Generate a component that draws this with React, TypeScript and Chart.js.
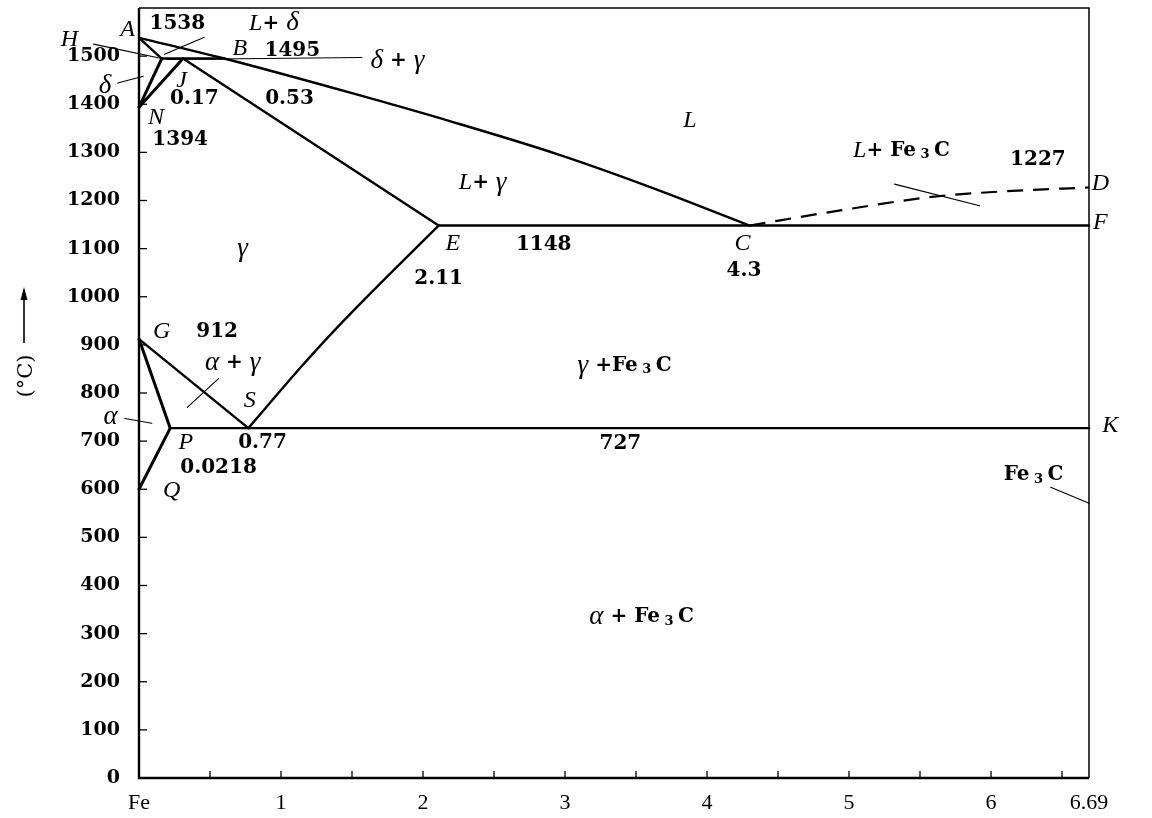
import { useEffect, useRef } from "react";
import { Chart, registerables } from "chart.js";

Chart.register(...registerables);

// x = carbon content (wt% C), y = temperature (°C)
const xTickValues = [0, 0.5, 1, 1.5, 2, 2.5, 3, 3.5, 4, 4.5, 5, 5.5, 6, 6.5, 6.69];
const yTickValues = [0, 100, 200, 300, 400, 500, 600, 700, 800, 900, 1000, 1100, 1200, 1300, 1400, 1500];

// liquidus A-B-C
const liquidusC = [0, 0.6, 1.5, 2.2, 2.95, 3.6, 4.3];
const liquidusT = [1538, 1495, 1423, 1364, 1296, 1228, 1148];
// A-H
const ahC = [0, 0.16];
const ahT = [1538, 1495];
// H-J-B peritectic
const hjbC = [0.16, 0.6];
const hjbT = [1495, 1495];
// H-N, J-N
const hnC = [0.16, 0];
const hnT = [1495, 1394];
const jnC = [0.31, 0];
const jnT = [1495, 1394];
// J-E solidus
const jeC = [0.31, 2.11];
const jeT = [1495, 1148];
// E-C-F eutectic
const ecfC = [2.11, 6.69];
const ecfT = [1148, 1148];
// C-D (dashed)
const cdC = [4.3, 4.95, 5.6, 6.15, 6.69];
const cdT = [1148, 1180, 1208, 1220, 1227];
// E-S
const esC = [0.77, 0.95, 1.15, 1.37, 1.6, 1.85, 2.11];
const esT = [727, 789, 857, 928, 998, 1072, 1148];
// G-S, G-P, P-Q
const gsC = [0, 0.77];
const gsT = [912, 727];
const gpC = [0, 0.22];
const gpT = [912, 727];
const pqC = [0.22, 0];
const pqT = [727, 600];
// P-S-K eutectoid
const pskC = [0.22, 6.69];
const pskT = [727, 727];

// thin leader lines of the annotations
const leadLdC = [0.18, 0.46];
const leadLdT = [1504, 1539];
const leadHC = [-0.32, 0.16];
const leadHT = [1525, 1495];
const leadDeltaC = [-0.15, 0.03];
const leadDeltaT = [1444, 1458];
const leadDgC = [0.2, 1.57];
const leadDgT = [1493, 1497];
const leadAgC = [0.34, 0.56];
const leadAgT = [770, 830];
const leadAlphaC = [-0.1, 0.09];
const leadAlphaT = [747, 737];
const leadLFeC = [5.32, 5.92];
const leadLFeT = [1234, 1189];
const leadFeC = [6.42, 6.69];
const leadFeT = [604, 571];

type Part = [string, string, number?];
const FE3C: Part[] = [["Fe", "r"], [" 3 ", "s", 4], ["C", "r"]];
const labels: { c: number; t: number; parts: Part[] }[] = [
  { c: -0.08, t: 1554, parts: [["A", "i"]] },
  { c: 0.27, t: 1568, parts: [["1538", "n"]] },
  { c: 0.95, t: 1568, parts: [["L", "i"], ["+ ", "r"], ["δ", "g"]] },
  { c: -0.49, t: 1535, parts: [["H", "i"]] },
  { c: 0.71, t: 1515, parts: [["B", "i"]] },
  { c: 1.08, t: 1512, parts: [["1495", "n"]] },
  { c: 1.82, t: 1490, parts: [["δ", "g"], [" + ", "r"], ["γ", "g"]] },
  { c: -0.24, t: 1438, parts: [["δ", "g"]] },
  { c: 0.3, t: 1450, parts: [["J", "i"]] },
  { c: 0.39, t: 1411, parts: [["0.17", "n"]] },
  { c: 1.06, t: 1411, parts: [["0.53", "n"]] },
  { c: 0.12, t: 1373, parts: [["N", "i"]] },
  { c: 0.29, t: 1326, parts: [["1394", "n"]] },
  { c: 3.88, t: 1365, parts: [["L", "i"]] },
  { c: 2.42, t: 1237, parts: [["L", "i"], ["+ ", "r"], ["γ", "g"]] },
  { c: 2.21, t: 1110, parts: [["E", "i"]] },
  { c: 2.85, t: 1108, parts: [["1148", "n"]] },
  { c: 2.11, t: 1037, parts: [["2.11", "n"]] },
  { c: 4.25, t: 1110, parts: [["C", "i"]] },
  { c: 4.26, t: 1054, parts: [["4.3", "n"]] },
  { c: 5.37, t: 1303, parts: [["L", "i"], ["+ ", "r"], ...FE3C] },
  { c: 6.33, t: 1284, parts: [["1227", "n"]] },
  { c: 6.77, t: 1234, parts: [["D", "i"]] },
  { c: 6.77, t: 1153, parts: [["F", "i"]] },
  { c: 6.84, t: 732, parts: [["K", "i"]] },
  { c: 6.3, t: 629, parts: FE3C },
  { c: 0.73, t: 1100, parts: [["γ", "g"]] },
  { c: 0.16, t: 927, parts: [["G", "i"]] },
  { c: 0.55, t: 927, parts: [["912", "n"]] },
  { c: 0.66, t: 863, parts: [["α", "g"], [" + ", "r"], ["γ", "g"]] },
  { c: 0.78, t: 784, parts: [["S", "i"]] },
  { c: -0.2, t: 751, parts: [["α", "g"]] },
  { c: 0.33, t: 697, parts: [["P", "i"]] },
  { c: 0.87, t: 697, parts: [["0.77", "n"]] },
  { c: 0.56, t: 645, parts: [["0.0218", "n"]] },
  { c: 0.23, t: 598, parts: [["Q", "i"]] },
  { c: 3.39, t: 695, parts: [["727", "n"]] },
  { c: 3.42, t: 857, parts: [["γ", "g"], [" +", "r"], ...FE3C] },
  { c: 3.54, t: 334, parts: [["α", "g"], [" + ", "r"], ...FE3C] },
];

const FONTS: Record<string, string> = {
  i: 'italic 24px "Liberation Serif"',
  g: 'italic 27px "Liberation Serif"',
  n: 'bold 20px "DejaVu Serif"',
  r: 'bold 20px "DejaVu Serif"',
  s: 'bold 13px "DejaVu Serif"',
};

const pts = (cs: number[], ts: number[]) => cs.map((c, i) => ({ x: c, y: ts[i] }));

const overlay = {
  id: "overlay",
  afterDraw(chart: any) {
    const { ctx, chartArea: a, scales } = chart;
    const xs = scales.x;
    const ys = scales.y;
    ctx.save();
    ctx.strokeStyle = "#000";
    ctx.fillStyle = "#000";
    ctx.lineCap = "butt";
    // frame
    ctx.lineWidth = 2.4;
    ctx.beginPath();
    ctx.moveTo(a.left, a.top);
    ctx.lineTo(a.left, a.bottom);
    ctx.lineTo(a.right, a.bottom);
    ctx.stroke();
    ctx.lineWidth = 1.5;
    ctx.beginPath();
    ctx.moveTo(a.left, a.top);
    ctx.lineTo(a.right, a.top);
    ctx.lineTo(a.right, a.bottom);
    ctx.stroke();
    // inward tick marks
    ctx.lineWidth = 1.3;
    xTickValues.forEach((v) => {
      if (v === 0 || v === 6.69) return;
      const px = xs.getPixelForValue(v);
      ctx.beginPath();
      ctx.moveTo(px, a.bottom);
      ctx.lineTo(px, a.bottom - 7);
      ctx.stroke();
    });
    yTickValues.forEach((v) => {
      if (v === 0) return;
      const py = ys.getPixelForValue(v);
      ctx.beginPath();
      ctx.moveTo(a.left, py);
      ctx.lineTo(a.left + 8, py);
      ctx.stroke();
    });
    // annotation labels
    ctx.textBaseline = "middle";
    ctx.textAlign = "left";
    labels.forEach((lb) => {
      let w = 0;
      lb.parts.forEach(([t, f]) => {
        ctx.font = FONTS[f];
        w += ctx.measureText(t).width;
      });
      let px = xs.getPixelForValue(lb.c) - w / 2;
      const py = ys.getPixelForValue(lb.t);
      lb.parts.forEach(([t, f, dy]) => {
        ctx.font = FONTS[f];
        ctx.fillText(t, px, py + (dy || 0));
        px += ctx.measureText(t).width;
      });
    });
    // y-axis title: (°C) with upward arrow
    ctx.save();
    ctx.translate(27, 376);
    ctx.rotate(-Math.PI / 2);
    ctx.font = '21px "DejaVu Serif"';
    ctx.textAlign = "center";
    ctx.fillText("(°C)", 0, 0);
    ctx.restore();
    ctx.lineWidth = 1.6;
    ctx.beginPath();
    ctx.moveTo(24, 343);
    ctx.lineTo(24, 296);
    ctx.stroke();
    ctx.beginPath();
    ctx.moveTo(24, 287);
    ctx.lineTo(20.5, 300);
    ctx.lineTo(27.5, 300);
    ctx.closePath();
    ctx.fill();
    ctx.restore();
  },
};

export default function App() {
  const ref = useRef<HTMLCanvasElement | null>(null);
  useEffect(() => {
    if (!ref.current) return;
    const line = (cs: number[], ts: number[], w: number, extra: any = {}) => ({
      data: pts(cs, ts),
      showLine: true,
      borderColor: "#000",
      backgroundColor: "#000",
      borderWidth: w,
      pointRadius: 0,
      tension: 0,
      borderJoinStyle: "round",
      borderCapStyle: "round",
      clip: false,
      ...extra,
    });
    const smooth = { cubicInterpolationMode: "monotone" };
    const chart = new Chart(ref.current, {
      type: "scatter",
      data: {
        datasets: [
          line(liquidusC, liquidusT, 2.4, { ...smooth, label: "ABC" }),
          line(ahC, ahT, 2.4, { label: "AH" }),
          line(hjbC, hjbT, 2.4, { label: "HJB" }),
          line(hnC, hnT, 3, { label: "HN" }),
          line(jnC, jnT, 3, { label: "JN" }),
          line(jeC, jeT, 2.4, { label: "JE" }),
          line(ecfC, ecfT, 2.4, { label: "ECF" }),
          line(cdC, cdT, 2.2, { ...smooth, borderDash: [16, 10], borderCapStyle: "butt", label: "CD" }),
          line(esC, esT, 2.4, { tension: 0.35, label: "ES" }),
          line(gsC, gsT, 2.4, { label: "GS" }),
          line(gpC, gpT, 3, { label: "GP" }),
          line(pqC, pqT, 3, { label: "PQ" }),
          line(pskC, pskT, 2.4, { label: "PSK" }),
          line(leadLdC, leadLdT, 1.1),
          line(leadHC, leadHT, 1.1),
          line(leadDeltaC, leadDeltaT, 1.1),
          line(leadDgC, leadDgT, 1.1),
          line(leadAgC, leadAgT, 1.1),
          line(leadAlphaC, leadAlphaT, 1.1),
          line(leadLFeC, leadLFeT, 1.1),
          line(leadFeC, leadFeT, 1.1),
        ],
      },
      options: {
        animation: false,
        responsive: true,
        maintainAspectRatio: false,
        layout: { autoPadding: false, padding: { left: 0, top: 8, right: 63, bottom: 0 } },
        plugins: { legend: { display: false }, tooltip: { enabled: false } },
        scales: {
          x: {
            type: "linear",
            min: 0,
            max: 6.69,
            grid: { display: false, drawTicks: false },
            border: { display: false },
            afterBuildTicks: (s: any) => {
              s.ticks = xTickValues.map((v) => ({ value: v }));
            },
            afterFit: (s: any) => {
              s.height = 40;
              s.paddingLeft = 0;
              s.paddingRight = 0;
            },
            ticks: {
              autoSkip: false,
              maxRotation: 0,
              padding: 12,
              color: "#000",
              font: { family: "Liberation Serif", size: 22 },
              callback: (v: any) => {
                const n = Number(v);
                if (n === 0) return "Fe";
                if (n === 6.69) return "6.69";
                return Number.isInteger(n) ? String(n) : "";
              },
            },
          },
          y: {
            type: "linear",
            min: 0,
            max: 1600,
            grid: { display: false, drawTicks: false },
            border: { display: false },
            afterBuildTicks: (s: any) => {
              s.ticks = yTickValues.map((v) => ({ value: v }));
            },
            afterFit: (s: any) => {
              s.width = 139;
              s.paddingTop = 0;
              s.paddingBottom = 0;
            },
            ticks: {
              autoSkip: false,
              padding: 19,
              color: "#000",
              font: { family: "DejaVu Serif", size: 19, weight: "bold" },
              callback: (v: any) => String(v),
            },
          },
        },
      },
      plugins: [overlay],
    });
    return () => chart.destroy();
  }, []);
  return (
    <div style={{ position: "fixed", left: 0, top: 0, width: 1152, height: 818, background: "#fff" }}>
      <canvas ref={ref} />
    </div>
  );
}
